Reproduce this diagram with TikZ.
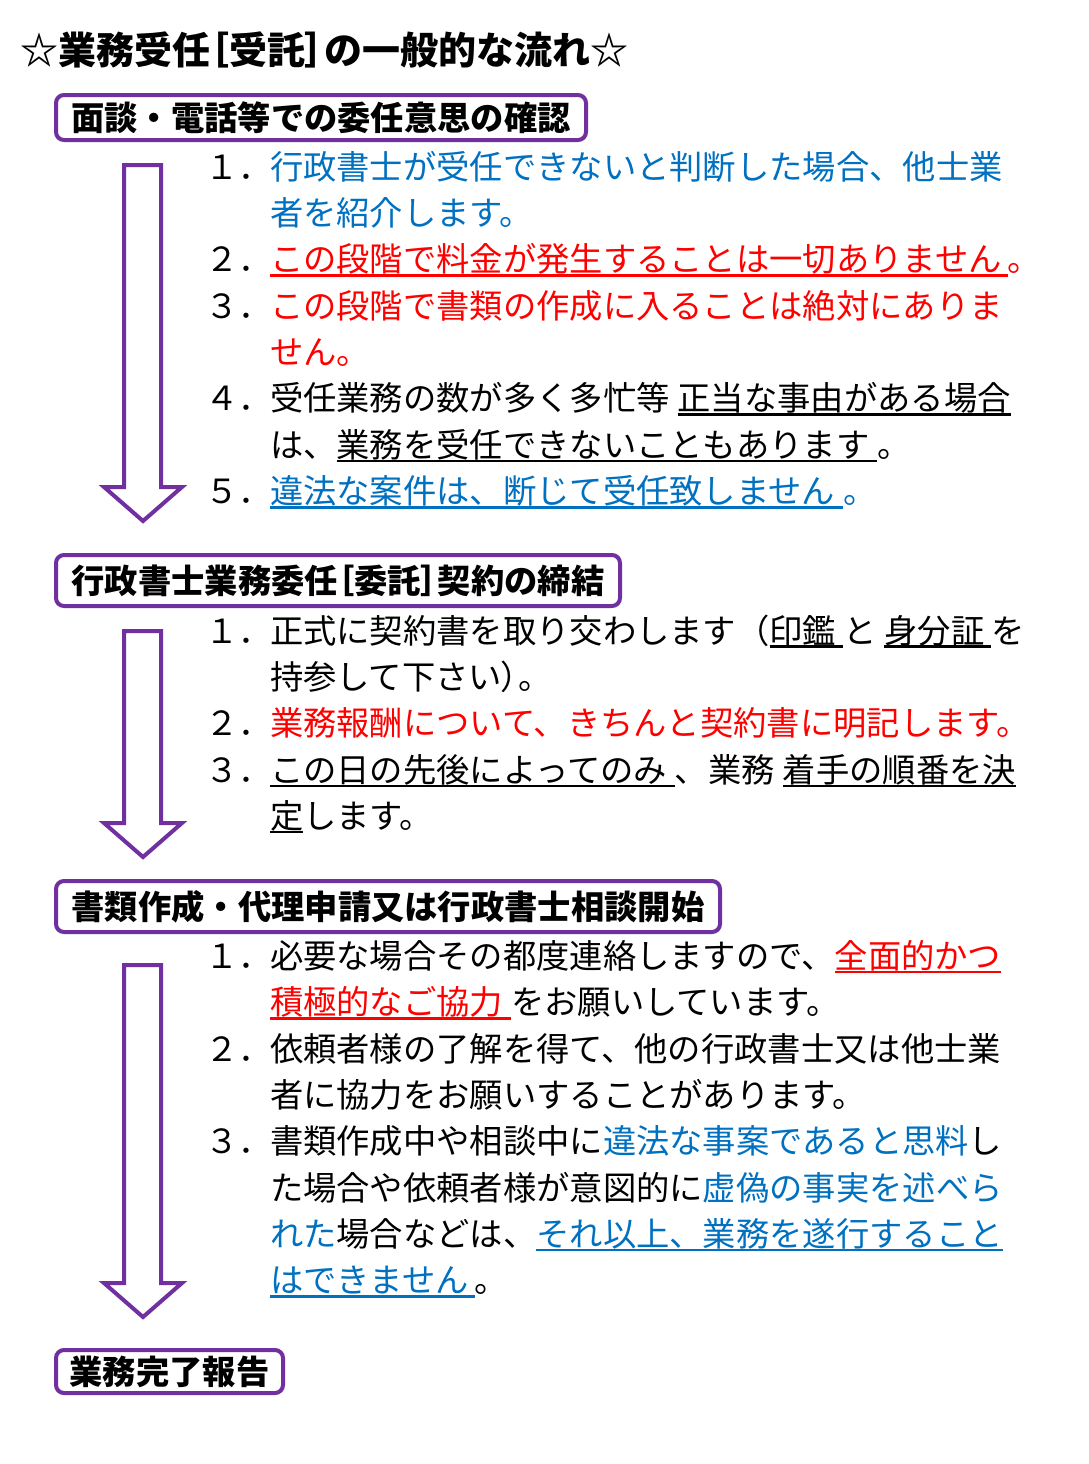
\documentclass[tikz,border=0pt]{standalone}
\usepackage{fontspec}
\setmainfont{Noto Sans CJK JP}
\definecolor{pur}{HTML}{7030A0}
\definecolor{blu}{HTML}{0070C0}
\definecolor{rd}{HTML}{FF0000}
\newcommand\ulx[1]{\setbox0\hbox{#1}\rlap{\rule[-5pt]{\wd0}{2.6pt}}\box0}
\newcommand\bkt[1]{{\addfontfeatures{RawFeature=+palt}#1}}
\begin{document}
\begin{tikzpicture}[x=1pt,y=-1pt,
  txt/.style={anchor=base west, inner sep=0pt, outer sep=0pt, font=\fontsize{33.3}{40}\selectfont},
  hdr/.style={draw=pur, line width=4pt, rounded corners=8pt, fill=white, inner sep=0pt, outer sep=0pt,
    anchor=north west, font=\fontsize{33.3}{40}\selectfont\bfseries},
  arr/.style={draw=pur, line width=4pt, fill=white, line join=miter}]
\useasboundingbox (0,0) rectangle (1088,1464);
\fill[white] (0,0) rectangle (1088,1464);

% title
\node[anchor=base west, inner sep=0pt, font=\fontsize{38}{44}\selectfont\bfseries] (title) at (20,64.4)
  {☆業務受任\bkt{［}受託\bkt{］}の一般的な流れ☆};

% headers
\node[hdr, minimum width=530, minimum height=45] (h1) at (56,95) {面談・電話等での委任意思の確認};
\node[hdr, minimum width=564, minimum height=51] (h2) at (56,555) {行政書士業務委任\bkt{［}委託\bkt{］}契約の締結};
\node[hdr, minimum width=664, minimum height=51] (h3) at (56,881) {書類作成・代理申請又は行政書士相談開始};
\node[hdr, minimum width=227, minimum height=43] (h4) at (56,1350) {業務完了報告};

% arrows
\draw[arr] (124,165) -- (124,487) -- (104,487) -- (143,521) -- (182,487) -- (161,487) -- (161,165) -- cycle;
\draw[arr] (124,631) -- (124,823) -- (104,823) -- (143,857) -- (182,823) -- (161,823) -- (161,631) -- cycle;
\draw[arr] (124,965) -- (124,1283) -- (104,1283) -- (143,1317) -- (182,1283) -- (161,1283) -- (161,965) -- cycle;

% section 1
\node[txt] (n11) at (205,179) {１．};
\node[txt, text=blu] (a1) at (270,179) {行政書士が受任できないと判断した場合、他士業};
\node[txt, text=blu] (a2) at (270,225.4) {者を紹介します。};
\node[txt] (n12) at (205,271.7) {２．};
\node[txt, text=rd] (a3) at (270,271.7) {\ulx{この段階で料金が発生することは一切ありません\hspace{6pt}}。};
\node[txt] (n13) at (205,318.1) {３．};
\node[txt, text=rd] (a4) at (270,318.1) {この段階で書類の作成に入ることは絶対にありま};
\node[txt, text=rd] (a5) at (270,364.4) {せん。};
\node[txt] (n14) at (205,410.8) {４．};
\node[txt] (a6) at (270,410.8) {受任業務の数が多く多忙等\hspace{8pt}\ulx{正当な事由がある場合}};
\node[txt] (a7) at (270,457.1) {は、\ulx{業務を受任できないこともあります\hspace{8pt}}。};
\node[txt] (n15) at (205,503.5) {５．};
\node[txt, text=blu] (a8) at (270,503.5) {\ulx{違法な案件は、断じて受任致しません\hspace{8pt}}。};

% section 2
\node[txt] (n21) at (205,643) {１．};
\node[txt] (b1) at (270,643) {正式に契約書を取り交わします（\ulx{印鑑\hspace{7pt}}と\hspace{8pt}\ulx{身分証\hspace{7pt}}を};
\node[txt] (b2) at (270,689.4) {持参して下さい\bkt{）}。};
\node[txt] (n22) at (205,735.7) {２．};
\node[txt, text=rd] (b3) at (270,735.7) {業務報酬について、きちんと契約書に明記します。};
\node[txt] (n23) at (205,782.1) {３．};
\node[txt] (b4) at (270,782.1) {\ulx{この日の先後によってのみ\hspace{8pt}}、業務\hspace{8pt}\ulx{着手の順番を決}};
\node[txt] (b5) at (270,828.4) {\ulx{定}します。};

% section 3
\node[txt] (n31) at (205,968.3) {１．};
\node[txt] (c1) at (270,968.3) {必要な場合その都度連絡しますので、\textcolor{rd}{\ulx{全面的かつ}}};
\node[txt] (c2) at (270,1014.7) {\textcolor{rd}{\ulx{積極的なご協力\hspace{8pt}}}をお願いしています。};
\node[txt] (n32) at (205,1061) {２．};
\node[txt] (c3) at (270,1061) {依頼者様の了解を得て、他の行政書士又は他士業};
\node[txt] (c4) at (270,1107.4) {者に協力をお願いすることがあります。};
\node[txt] (n33) at (205,1153.7) {３．};
\node[txt] (c5) at (270,1153.7) {書類作成中や相談中に\textcolor{blu}{違法な事案であると思料}し};
\node[txt] (c6) at (270,1200.1) {た場合や依頼者様が意図的に\textcolor{blu}{虚偽の事実を述べら}};
\node[txt] (c7) at (270,1246.4) {\textcolor{blu}{れた}場合などは、\textcolor{blu}{\ulx{それ以上、業務を遂行すること}}};
\node[txt] (c8) at (270,1292.8) {\textcolor{blu}{\ulx{はできません\hspace{6pt}}}。};
\end{tikzpicture}
\end{document}
